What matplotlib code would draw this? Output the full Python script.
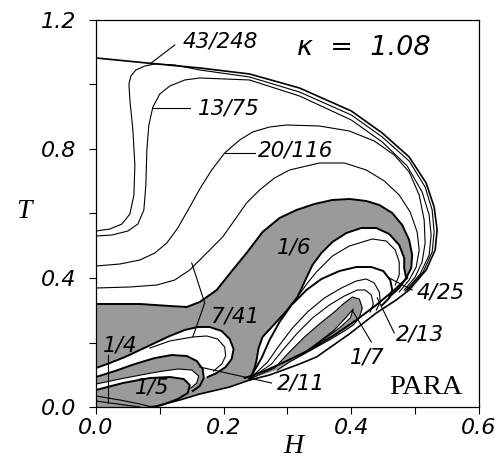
import matplotlib
matplotlib.use("Agg")
import matplotlib.pyplot as plt

# ---------------- data (H, T) ----------------
outer_H = [0.0, 0.0797, 0.1625, 0.2406, 0.3188, 0.4, 0.4484, 0.4906, 0.5172, 0.5297, 0.5344, 0.5313,
           0.5172, 0.4906, 0.4703, 0.4391, 0.3969, 0.3453, 0.3188, 0.2719, 0.2406, 0.2094, 0.1625,
           0.1313, 0.0953, 0.0844]
outer_T = [1.0822, 1.0667, 1.0512, 1.0326, 0.9891, 0.9178, 0.8496, 0.7752, 0.6946, 0.6202, 0.5488, 0.4868,
           0.4248, 0.3628, 0.3318, 0.2915, 0.2264, 0.1550, 0.1333, 0.0992, 0.0837, 0.0620, 0.0403,
           0.0217, 0.0031, 0.0]

c43_H = [0.0, 0.0219, 0.0406, 0.0531, 0.0594, 0.0609, 0.0578, 0.0531, 0.0516, 0.0547, 0.0625, 0.0766,
         0.0922, 0.1234, 0.1625, 0.2406, 0.3188, 0.4, 0.4484, 0.4906, 0.5156, 0.5266, 0.5297, 0.5266,
         0.5125, 0.4875]
c43_T = [0.5457, 0.5519, 0.5674, 0.5984, 0.6574, 0.7504, 0.8589, 0.9519, 1.0016, 1.0264, 1.0450, 1.0574,
         1.0636, 1.0605, 1.0450, 1.0233, 0.9767, 0.9054, 0.8372, 0.7628, 0.6822, 0.6109, 0.5426, 0.4806,
         0.4186, 0.3628]

c13_H = [0.0, 0.025, 0.05, 0.0656, 0.075, 0.0781, 0.0797, 0.0828, 0.0891, 0.1, 0.1156, 0.1391, 0.1625,
         0.2406, 0.3188, 0.4, 0.4484, 0.4875, 0.5109, 0.5219, 0.525, 0.5219, 0.5078, 0.4844]
c13_T = [0.5302, 0.5333, 0.5457, 0.5674, 0.6109, 0.6884, 0.7969, 0.8744, 0.9302, 0.9705, 0.9953, 1.0140,
         1.0202, 1.0140, 0.9643, 0.8899, 0.8217, 0.7473, 0.6667, 0.5953, 0.5333, 0.4713, 0.4124, 0.3597]

c20_H = [0.0, 0.0375, 0.0688, 0.0922, 0.1109, 0.1281, 0.1469, 0.1625, 0.1813, 0.2016, 0.225, 0.2453,
         0.2719, 0.2984, 0.35, 0.3969, 0.4359, 0.4672, 0.4906, 0.5063, 0.5141, 0.5156, 0.5109, 0.5, 0.4828]
c20_T = [0.4372, 0.4434, 0.4558, 0.4775, 0.5085, 0.5550, 0.6202, 0.6760, 0.7349, 0.7876, 0.8279, 0.8527,
         0.8682, 0.8744, 0.8713, 0.8558, 0.8248, 0.7814, 0.7287, 0.6574, 0.5798, 0.5085, 0.4496, 0.4031,
         0.3628]

cB_H = [0.0, 0.0531, 0.0953, 0.1234, 0.1469, 0.1703, 0.1984, 0.2172, 0.2359, 0.2563, 0.2797, 0.3031,
        0.35, 0.3891, 0.4234, 0.4516, 0.475, 0.4922, 0.5031, 0.5063, 0.5016, 0.4906, 0.475]
cB_T = [0.3690, 0.3721, 0.3783, 0.3938, 0.4248, 0.4713, 0.5271, 0.5798, 0.6326, 0.6729, 0.7101, 0.7349,
        0.7566, 0.7566, 0.7349, 0.7008, 0.6574, 0.6047, 0.5426, 0.4868, 0.4341, 0.3938, 0.3566]

# top edge of the grey 1/6 - 1/4 band
gtop_H = [0.0, 0.0688, 0.1156, 0.1422, 0.1625, 0.1891, 0.2141, 0.2359, 0.2609, 0.2875, 0.3141, 0.3422,
          0.3703, 0.3969, 0.4234, 0.4438, 0.4641, 0.4797, 0.4906, 0.4953, 0.4938, 0.4859, 0.475, 0.4594]
gtop_T = [0.3194, 0.3194, 0.3132, 0.3101, 0.3256, 0.3628, 0.4248, 0.4775, 0.5426, 0.5860, 0.6109, 0.6295,
          0.6419, 0.6450, 0.6388, 0.6264, 0.6016, 0.5643, 0.5178, 0.4713, 0.4310, 0.4000, 0.3690, 0.3411]
# inner edge of the grey 1/6 band
ginner_H = [0.4859, 0.4828, 0.4828, 0.475, 0.4594, 0.4391, 0.4156, 0.3922, 0.3703, 0.3531, 0.3391, 0.3266,
            0.3156, 0.2984, 0.2797, 0.2609, 0.2547, 0.2516, 0.2484, 0.2406]
ginner_T = [0.4000, 0.4310, 0.4620, 0.5023, 0.5364, 0.5550, 0.5550, 0.5395, 0.5116, 0.4775, 0.4403, 0.3876,
            0.3411, 0.2977, 0.2574, 0.2171, 0.1829, 0.1457, 0.1209, 0.0837]

# white tongue below the 1/4 region
u1_H = [0.0, 0.0219, 0.0453, 0.0688, 0.0922, 0.1156, 0.1391, 0.1594, 0.1781, 0.1969, 0.2094, 0.2156,
        0.2125, 0.2031, 0.1891, 0.175]
u1_T = [0.1209, 0.1364, 0.1550, 0.1767, 0.1985, 0.2202, 0.2388, 0.2481, 0.2481, 0.2357, 0.2109, 0.1798,
        0.1488, 0.1240, 0.1054, 0.0930]
inner1_H = [0.0844, 0.1156, 0.1516, 0.1734, 0.1906, 0.2016, 0.2031, 0.1969, 0.1844]
inner1_T = [0.1829, 0.2047, 0.2171, 0.2202, 0.2109, 0.1860, 0.1581, 0.1333, 0.1116]
g2_H = [0.0, 0.0297, 0.0609, 0.0922, 0.1188, 0.1422, 0.1578, 0.1672, 0.1688, 0.1625, 0.1516]
g2_T = [0.0930, 0.1116, 0.1333, 0.1519, 0.1612, 0.1581, 0.1426, 0.1178, 0.0899, 0.0651, 0.0496]
w2_H = [0.0, 0.0453, 0.0953, 0.1281, 0.15, 0.1609, 0.1578, 0.1484]
w2_T = [0.0713, 0.0899, 0.1085, 0.1178, 0.1147, 0.0961, 0.0744, 0.0589]
g3_H = [0.0, 0.0422, 0.0844, 0.1156, 0.1375, 0.1469, 0.1438, 0.1281, 0.1078, 0.0922]
g3_T = [0.0527, 0.0744, 0.0899, 0.0930, 0.0868, 0.0682, 0.0434, 0.0248, 0.0093, 0.0]
b5a_H = [0.0, 0.0375, 0.0688, 0.0875]
b5a_T = [0.0341, 0.0217, 0.0093, 0.0]
b5b_H = [0.0, 0.0453, 0.0688]
b5b_T = [0.0186, 0.0062, 0.0]

# 7/41 boundary
c741_H = [0.15, 0.1703, 0.1516]
c741_T = [0.4465, 0.3225, 0.2171]

# fan of tongues on the right
fa_H = [0.3188, 0.3313, 0.3453, 0.3703, 0.3969, 0.4328, 0.4547, 0.4688, 0.475, 0.475, 0.4688]
fa_T = [0.3504, 0.3845, 0.4186, 0.4682, 0.4992, 0.5209, 0.5147, 0.4868, 0.4496, 0.4093, 0.3783]
t425_H = [0.2406, 0.2594, 0.2719, 0.2875, 0.3063, 0.3297, 0.3531, 0.3813, 0.4078, 0.4313, 0.45, 0.4609,
          0.4641, 0.4594, 0.4484]
t425_T = [0.0868, 0.1519, 0.2078, 0.2636, 0.3163, 0.3628, 0.3969, 0.4217, 0.4341, 0.4341, 0.4217, 0.3938,
          0.3628, 0.3380, 0.3163]
t213_H = [0.2406, 0.2688, 0.2875, 0.3078, 0.3313, 0.3578, 0.3844, 0.4078, 0.4234, 0.4359, 0.4438, 0.4453,
          0.4391]
t213_T = [0.0868, 0.1395, 0.1922, 0.2450, 0.2946, 0.3380, 0.3690, 0.3907, 0.3969, 0.3845, 0.3566, 0.3256,
          0.3008]
t213b_H = [0.2406, 0.275, 0.2953, 0.3156, 0.3391, 0.3656, 0.3891, 0.4094, 0.4219, 0.4313, 0.4344, 0.4297]
t213b_T = [0.0868, 0.1333, 0.1829, 0.2295, 0.2760, 0.3163, 0.3442, 0.3628, 0.3628, 0.3473, 0.3194, 0.2946]
g17_H = [0.2406, 0.2797, 0.3031, 0.3266, 0.35, 0.3734, 0.3891, 0.4016, 0.4125, 0.4172, 0.4125, 0.4031,
         0.3891, 0.3656, 0.3344, 0.3031, 0.2844]
g17_T = [0.0868, 0.1209, 0.1705, 0.2171, 0.2574, 0.2946, 0.3225, 0.3411, 0.3349, 0.3070, 0.2760, 0.2543,
         0.2357, 0.2078, 0.1736, 0.1395, 0.1147]
g17w_H = [0.3188, 0.3469, 0.3734, 0.3922, 0.4031, 0.3984, 0.3813, 0.3531, 0.325]
g17w_T = [0.1581, 0.1985, 0.2388, 0.2791, 0.3039, 0.2760, 0.2450, 0.2047, 0.1643]
lb2_H = [0.2328, 0.2641, 0.2953, 0.3344, 0.3734, 0.4078, 0.4391, 0.4672, 0.4875]
lb2_T = [0.0899, 0.1116, 0.1395, 0.1767, 0.2233, 0.2698, 0.3163, 0.3628, 0.4000]

# labels: text, H, T
labels = ["43/248", "13/75", "20/116", "1/6", "7/41", "1/4", "1/5", "2/11", "1/7", "2/13", "4/25"]
lab_H = [0.1359, 0.1594, 0.2531, 0.311, 0.2172, 0.0375, 0.0875, 0.2828, 0.425, 0.4703, 0.5016]
lab_T = [1.1318, 0.9271, 0.7940, 0.496, 0.282, 0.192, 0.059, 0.0744, 0.155, 0.2233, 0.3535]
lab_ha = ["left", "left", "left", "center", "center", "center", "center", "left", "center", "left", "left"]
# leader lines: (H0, T0, H1, T1)
lead_H0 = [0.0844, 0.0875, 0.2016, 0.0188, 0.1625, 0.4031, 0.4406, 0.4594]
lead_T0 = [1.0636, 0.9271, 0.7876, 0.1612, 0.1240, 0.2946, 0.3380, 0.4000]
lead_H1 = [0.1234, 0.1469, 0.2484, 0.0188, 0.2750, 0.4313, 0.4672, 0.4953]
lead_T1 = [1.1225, 0.9271, 0.7876, 0.0124, 0.0744, 0.2016, 0.2295, 0.3628]

GRAY = "#9a9a9a"

fig = plt.figure(figsize=(5.01, 4.66), dpi=100)
ax = fig.add_axes([0.1916, 0.1266, 0.7645, 0.8305])
ax.set_xlim(0, 0.6)
ax.set_ylim(0, 1.2)

# grey base region (1/4 + 1/6 and lower phases)
n_gt = 22
P1_H = gtop_H[:n_gt] + ginner_H + outer_H[-6:] + [0.0]
P1_T = gtop_T[:n_gt] + ginner_T + outer_T[-6:] + [0.0]
ax.fill(P1_H, P1_T, color=GRAY, lw=0, zorder=1)
# white tongue
W1_H = u1_H + g2_H[:9][::-1]
W1_T = u1_T + g2_T[:9][::-1]
ax.fill(W1_H, W1_T, color="white", lw=0, zorder=2)
# white sliver
W2_H = w2_H + g3_H[:6][::-1]
W2_T = w2_T + g3_T[:6][::-1]
ax.fill(W2_H, W2_T, color="white", lw=0, zorder=2)
# 1/7 grey tongue
ax.fill(g17_H, g17_T, color=GRAY, lw=0, zorder=2)
ax.fill(g17w_H, g17w_T, color="white", lw=0, zorder=3)

thin = dict(color="black", lw=0.8, zorder=5, solid_joinstyle="round")
thick = dict(color="black", lw=1.4, zorder=5, solid_joinstyle="round")

ax.plot(outer_H, outer_T, color="black", lw=1.2, zorder=5, solid_joinstyle="round")
ax.plot(c43_H, c43_T, **thin)
ax.plot(c13_H, c13_T, **thin)
ax.plot(c20_H, c20_T, **thin)
ax.plot(cB_H, cB_T, **thin)
ax.plot(gtop_H, gtop_T, **thick)
ax.plot(ginner_H, ginner_T, **thick)
ax.plot(u1_H, u1_T, **thick)
ax.plot(inner1_H, inner1_T, **thin)
ax.plot(g2_H, g2_T, **thick)
ax.plot(w2_H, w2_T, **thin)
ax.plot(g3_H, g3_T, **thick)
ax.plot(b5a_H, b5a_T, **thin)
ax.plot(b5b_H, b5b_T, **thin)
ax.plot(c741_H, c741_T, **thin)
ax.plot(fa_H, fa_T, **thin)
ax.plot(t425_H, t425_T, **thick)
ax.plot(t213_H, t213_T, **thin)
ax.plot(t213b_H, t213b_T, **thin)
ax.plot(g17_H, g17_T, **thin)
ax.plot(g17w_H, g17w_T, **thin)
ax.plot(lb2_H, lb2_T, **thick)

for h0, t0, h1, t1 in zip(lead_H0, lead_T0, lead_H1, lead_T1):
    ax.plot([h0, h1], [t0, t1], **thin)

for s, h, t, ha in zip(labels, lab_H, lab_T, lab_ha):
    ax.text(h, t, s, ha=ha, va="center", fontsize=15.5, style="italic",
            family="DejaVu Sans", zorder=6)

ax.text(0.419, 1.113, "\u03ba  =  1.08", ha="center", va="center", fontsize=19.5,
        style="italic", family="DejaVu Sans")
ax.text(0.517, 0.062, "PARA", ha="center", va="center", fontsize=20.5,
        family="Liberation Serif")

ax.set_xticks([0.0, 0.2, 0.4, 0.6])
ax.set_xticklabels(["0.0", "0.2", "0.4", "0.6"])
ax.set_xticks([0.1, 0.3, 0.5], minor=True)
ax.set_yticks([0.0, 0.4, 0.8, 1.2])
ax.set_yticklabels(["0.0", "0.4", "0.8", "1.2"])
ax.set_yticks([0.2, 0.6, 1.0], minor=True)
ax.tick_params(which="both", direction="out", length=5, width=0.8, top=False, right=False)
ax.tick_params(axis="x", which="major", pad=3)
ax.tick_params(axis="y", which="major", pad=9)
for lab in ax.get_xticklabels() + ax.get_yticklabels():
    lab.set_fontsize(16)
    lab.set_fontstyle("italic")
    lab.set_family("DejaVu Sans")
for sp in ax.spines.values():
    sp.set_linewidth(0.9)

ax.text(-0.188, 0.504, "T", transform=ax.transAxes, ha="center", va="center",
        fontsize=20, style="italic", family="Liberation Serif")
ax.text(0.514, -0.103, "H", transform=ax.transAxes, ha="center", va="center",
        fontsize=20, style="italic", family="Liberation Serif")

fig.savefig("out.png", dpi=100)
